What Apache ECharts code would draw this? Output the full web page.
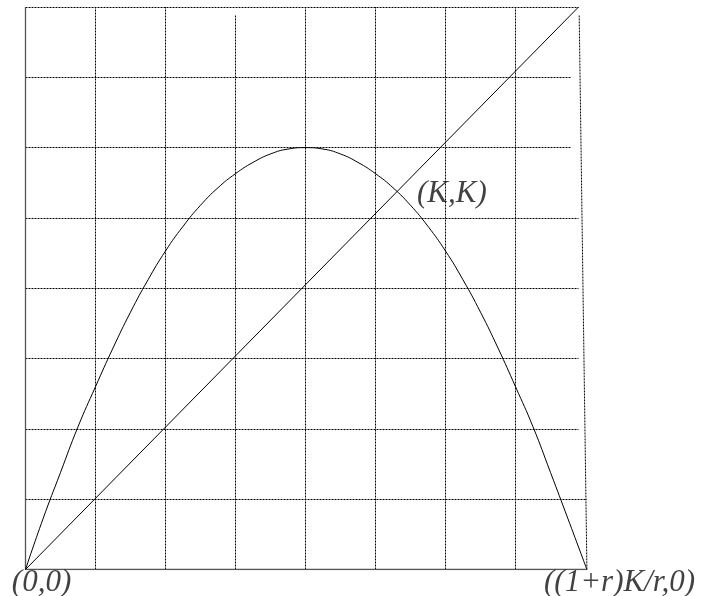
<!DOCTYPE html>
<html>
<head>
<meta charset="utf-8">
<script src="https://cdn.jsdelivr.net/npm/echarts@6/dist/echarts.min.js"></script>
<style>
html,body{margin:0;padding:0;background:#fff;}
#chart{width:704px;height:596px;}
</style>
</head>
<body>
<div id="chart"></div>
<script>
// ---- data ----
// parabola  f(x) = x + r x (1 - x/K)
const curveX = [0, 0.25, 0.5, 0.75, 1, 1.25, 1.5, 1.75, 2, 2.25, 2.5, 2.75, 3, 3.25, 3.5, 3.75, 4,
                4.25, 4.5, 4.75, 5, 5.25, 5.5, 5.75, 6, 6.25, 6.5, 6.75, 7, 7.25, 7.5, 7.75, 8.02];
const curveY = [0, 0.72, 1.38, 2.03, 2.6, 3.15, 3.66, 4.12, 4.53, 4.88, 5.18, 5.43, 5.63, 5.79, 5.91, 5.98, 6,
                5.98, 5.91, 5.79, 5.63, 5.43, 5.18, 4.88, 4.53, 4.12, 3.66, 3.15, 2.6, 2.03, 1.38, 0.72, 0];
// diagonal y = x line
const diagX = [0, 7.9];
const diagY = [0, 8];
// vertical grid lines: x position, top end
const colX   = [1, 2, 3, 4, 5, 6, 7];
const colTop = [8, 8, 7.88, 8, 8, 8, 8];
// horizontal grid lines: y position, right end
const rowY   = [1, 2, 3, 4, 5, 6, 7];
const rowEnd = [8.02, 7.9, 7.9, 7.9, 7.9, 7.79, 7.79];
// frame edges
const rightEdge = [[7.91, 7.88], [8.02, 0]];
const topEdge   = [[0, 8], [7.9, 8]];
const leftEdge  = [[0, 0], [0, 8]];
const bottomEdge = [[0, 0], [8.02, 0]];
// point labels
const K = 16 / 3;
const labelText = ['(0,0)', '(K,K)', '((1+r)K/r,0)'];
const labelX = [0, K, 8];
const labelY = [0, K, 0];

// ---- build ----
const labelOffsets = [[16, 13], [53, -1], [34, 13]];
const curveData = curveX.map((x, i) => [x, curveY[i]]);
const diagData = diagX.map((x, i) => [x, diagY[i]]);
const gridLines = [];
colX.forEach((x, i) => gridLines.push({coords: [[x, 0], [x, colTop[i]]]}));
rowY.forEach((y, i) => gridLines.push({coords: [[0, y], [rowEnd[i], y]]}));
gridLines.push({coords: rightEdge});
gridLines.push({coords: topEdge});

const labelData = labelText.map((t, i) => ({
  value: [labelX[i], labelY[i]],
  name: t,
  label: {offset: labelOffsets[i]}
}));

const chart = echarts.init(document.getElementById('chart'), null, {renderer: 'canvas'});
chart.setOption({
  animation: false,
  backgroundColor: '#ffffff',
  grid: {left: 25.5, right: 111.5, top: 0, bottom: 26.5, containLabel: false},
  xAxis: {
    type: 'value', min: 0, max: 8.1,
    axisLine: {show: false}, axisTick: {show: false}, axisLabel: {show: false},
    splitLine: {show: false}
  },
  yAxis: {
    type: 'value', min: 0, max: 8.1,
    axisLine: {show: false}, axisTick: {show: false}, axisLabel: {show: false},
    splitLine: {show: false}
  },
  series: [
    {
      type: 'lines', coordinateSystem: 'cartesian2d', silent: true,
      data: gridLines,
      lineStyle: {color: '#000', width: 1, type: [2, 1], opacity: 1, curveness: 0},
      z: 1
    },
    {
      type: 'lines', coordinateSystem: 'cartesian2d', silent: true,
      data: [{coords: leftEdge}, {coords: bottomEdge}],
      lineStyle: {color: '#555', width: 1.3, type: 'solid', opacity: 1, curveness: 0},
      z: 2
    },
    {
      type: 'line', data: diagData, showSymbol: false, clip: false, silent: true,
      lineStyle: {color: '#000', width: 1}, z: 3
    },
    {
      type: 'line', data: curveData, smooth: true, showSymbol: false, clip: false, silent: true,
      lineStyle: {color: '#000', width: 1}, z: 3
    },
    {
      type: 'scatter', data: labelData, symbolSize: 0, silent: true, clip: false,
      label: {
        show: true, position: 'inside', formatter: p => p.name,
        align: 'center', verticalAlign: 'middle',
        fontFamily: 'Liberation Serif', fontStyle: 'italic', fontSize: 31,
        color: '#111'
      },
      z: 4
    }
  ]
});
</script>
</body>
</html>
